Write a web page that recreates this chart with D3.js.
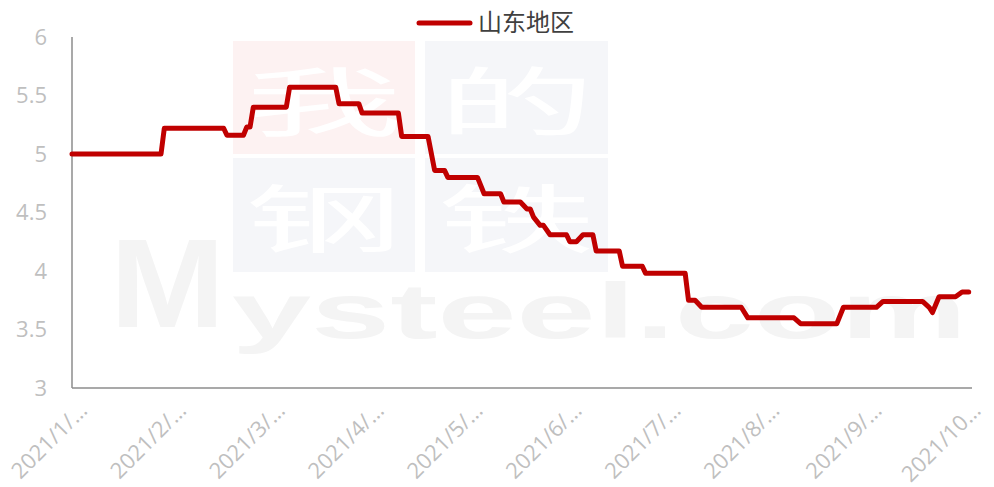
<!DOCTYPE html>
<html><head><meta charset="utf-8">
<script src="https://cdn.jsdelivr.net/npm/d3@7"></script>
<style>html,body{margin:0;padding:0;background:#fff;}svg{display:block;}</style>
</head><body>
<svg id="chart" width="994" height="487"></svg>
<script>
const seriesName = "山东地区";
const dates = ["2021-01-01","2021-01-28","2021-01-29","2021-02-16","2021-02-17","2021-02-22","2021-02-23","2021-02-24","2021-02-25","2021-03-07","2021-03-08","2021-03-22","2021-03-23","2021-03-29","2021-03-30","2021-04-10","2021-04-11","2021-04-19","2021-04-21","2021-04-24","2021-04-25","2021-05-04","2021-05-06","2021-05-11","2021-05-12","2021-05-17","2021-05-19","2021-05-20","2021-05-21","2021-05-23","2021-05-24","2021-05-26","2021-05-31","2021-06-01","2021-06-03","2021-06-05","2021-06-08","2021-06-09","2021-06-16","2021-06-17","2021-06-23","2021-06-24","2021-07-06","2021-07-07","2021-07-09","2021-07-11","2021-07-23","2021-07-25","2021-08-08","2021-08-10","2021-08-21","2021-08-23","2021-09-02","2021-09-04","2021-09-16","2021-09-18","2021-09-19","2021-09-21","2021-09-26","2021-09-28","2021-09-30"];
const values = [5.00,5.00,5.22,5.22,5.16,5.16,5.23,5.23,5.40,5.40,5.57,5.57,5.43,5.43,5.35,5.35,5.15,5.15,4.86,4.86,4.80,4.80,4.66,4.66,4.59,4.59,4.53,4.53,4.46,4.39,4.39,4.31,4.31,4.25,4.25,4.31,4.31,4.17,4.17,4.04,4.04,3.98,3.98,3.75,3.75,3.69,3.69,3.60,3.60,3.55,3.55,3.69,3.69,3.74,3.74,3.69,3.645,3.78,3.78,3.82,3.82];
const tickDates = ["2021-01-03","2021-02-02","2021-03-04","2021-04-03","2021-05-03","2021-06-02","2021-07-02","2021-08-01","2021-09-01","2021-10-01"];
const tickLabels = ["2021/1/…","2021/2/…","2021/3/…","2021/4/…","2021/5/…","2021/6/…","2021/7/…","2021/8/…","2021/9/…","2021/10…"];
const yTicks = [3,3.5,4,4.5,5,5.5,6];

const parse = d3.timeParse("%Y-%m-%d");
const data = dates.map((d,i)=>({date:parse(d), value:values[i]}));

const svg = d3.select("#chart");
const margin = {left:72, right:22, top:37, bottom:99};
const W = 994, H = 487;
const x = d3.scaleTime().domain([parse("2021-01-01"), parse("2021-10-01")]).range([margin.left, W - margin.right]);
const y = d3.scaleLinear().domain([3,6]).range([H - margin.bottom, margin.top]);

// watermark
const wm = svg.append("g").attr("class","watermark");
const boxes = [
  {x0:233,y0:41,x1:415,y1:154,c:"#fdf2f2",t:"我"},
  {x0:425,y0:41,x1:608,y1:154,c:"#f5f6f9",t:"的"},
  {x0:233,y0:158,x1:415,y1:272,c:"#f5f6f9",t:"钢"},
  {x0:425,y0:158,x1:608,y1:272,c:"#f5f6f9",t:"铁"}
];
boxes.forEach(b=>{
  wm.append("rect").attr("x",b.x0).attr("y",b.y0).attr("width",b.x1-b.x0).attr("height",b.y1-b.y0).attr("fill",b.c);
  const cx=(b.x0+b.x1)/2, cy=(b.y0+b.y1)/2;
  wm.append("text").attr("transform",`translate(${cx},${cy+32}) scale(2.1,1)`)
    .attr("text-anchor","middle").attr("font-family","Noto Sans CJK SC").attr("font-weight","normal")
    .attr("font-size",75).attr("fill","#ffffff").text(b.t);
});
wm.append("text").attr("x",110).attr("y",327).attr("font-family","Liberation Sans").attr("font-weight","bold")
  .attr("font-size",127).attr("fill","#f4f4f4").attr("textLength",115).attr("lengthAdjust","spacingAndGlyphs").text("M");
wm.append("text").attr("x",232).attr("y",338).attr("font-family","Liberation Sans").attr("font-weight","bold")
  .attr("font-size",78).attr("fill","#f4f4f4").attr("textLength",735).attr("lengthAdjust","spacingAndGlyphs").text("ysteel.com");

// axes
const axisColor = "#8c8c8c";
svg.append("line").attr("x1",x.range()[0]).attr("x2",x.range()[0]).attr("y1",y(6)).attr("y2",y(3)).attr("stroke",axisColor).attr("stroke-width",1.5);
svg.append("line").attr("x1",x.range()[0]).attr("x2",x.range()[1]).attr("y1",y(3)).attr("y2",y(3)).attr("stroke",axisColor).attr("stroke-width",1.5);

const yAxis = d3.axisLeft(y).tickValues(yTicks).tickSize(0).tickPadding(25).tickFormat(d3.format("~g"));
const gy = svg.append("g").attr("transform",`translate(${margin.left},0)`).call(yAxis);
gy.select(".domain").remove();
gy.selectAll("text").attr("font-family","Open Sans").attr("font-size",22).attr("fill","#bfbfbf");

const gx = svg.append("g").attr("transform",`translate(0,${y(3)})`);
gx.selectAll("text").data(tickDates).join("text")
  .attr("transform",d=>`translate(${x(parse(d))+10},24) rotate(-45)`)
  .attr("text-anchor","end").attr("font-family","Open Sans").attr("font-size",22).attr("fill","#bfbfbf")
  .text((d,i)=>tickLabels[i]);

// line
const line = d3.line().x(d=>x(d.date)).y(d=>y(d.value));
svg.append("path").datum(data).attr("d",line).attr("fill","none").attr("stroke","#c00000")
  .attr("stroke-width",5).attr("stroke-linejoin","round").attr("stroke-linecap","round");

// legend
const lg = svg.append("g");
lg.append("line").attr("x1",419).attr("x2",470).attr("y1",23).attr("y2",23).attr("stroke","#c00000").attr("stroke-width",5).attr("stroke-linecap","round");
lg.append("text").attr("x",478).attr("y",31).attr("font-family","Noto Sans CJK SC").attr("font-size",24).attr("fill","#404040").text(seriesName);
</script>
</body></html>
